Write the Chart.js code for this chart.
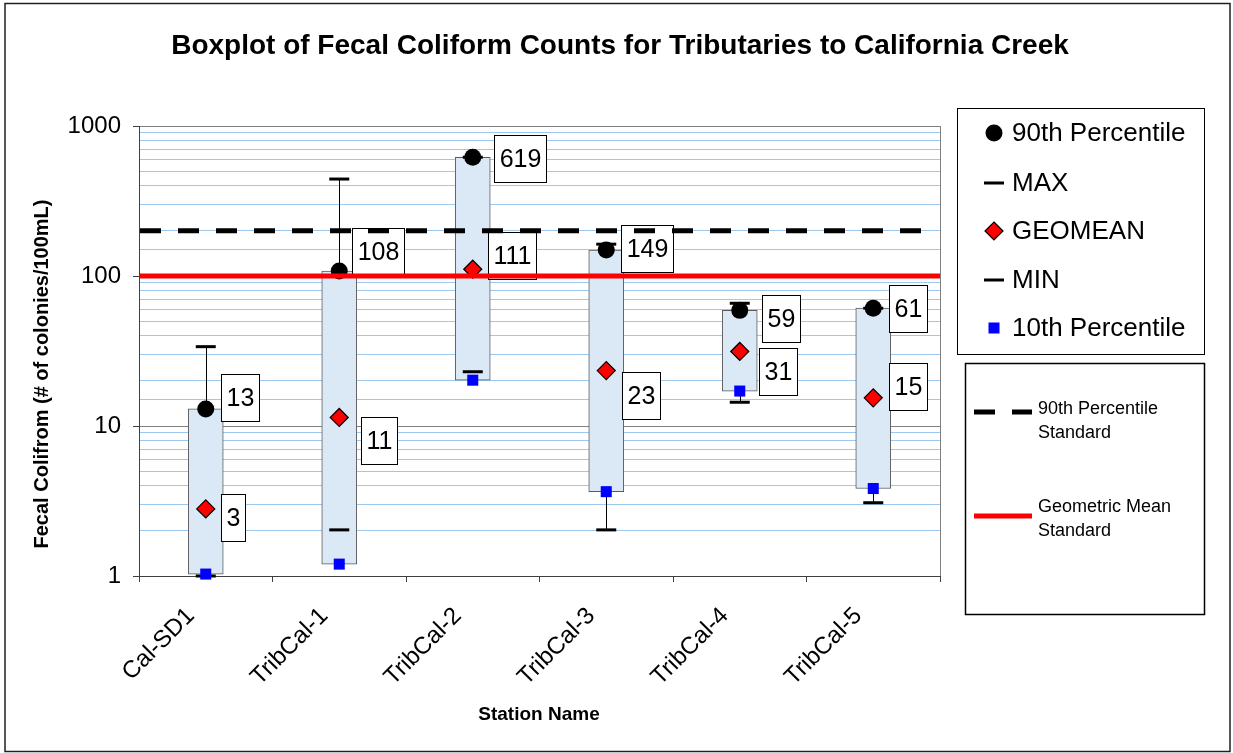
<!DOCTYPE html>
<html><head><meta charset="utf-8">
<script src="https://cdn.jsdelivr.net/npm/chart.js@4.4.1/dist/chart.umd.min.js"></script>
<style>html,body{margin:0;padding:0;background:#fff;}#wrap{position:relative;width:1233px;height:753px;}</style>
</head><body><div id="wrap"><canvas id="c" width="1233" height="753"></canvas></div>
<script>
// ---- data ----
const categories = ['Cal-SD1', 'TribCal-1', 'TribCal-2', 'TribCal-3', 'TribCal-4', 'TribCal-5'];
const p90 = [13, 108, 619, 149, 59, 61];
const p10 = [1.03, 1.2, 20.2, 3.65, 17.1, 3.83];
const maxVals = [33.8, 443, 619, 163, 65.8, 61];
const minVals = [1.0, 2.03, 23, 2.03, 14.4, 3.08];
const geomean = [2.8, 11.4, 111, 23.4, 31.4, 15.4];
const yTickLabels = [1, 10, 100, 1000];
const standard90 = 200;
const standardGeo = 100;
const titleText = 'Boxplot of Fecal Coliform Counts for Tributaries to California Creek';
const yTitle = 'Fecal Colifrom (# of colonies/100mL)';
const xTitle = 'Station Name';

// ---- styling (label placement relative to the marker) ----
const p90LabelOffset = [[15, -11.5], [13, -19], [21, 1.5], [15, -2], [22, 8.5], [16, 0.5]];
const geoLabelOffset = [[15, 9], [22, 23], [15, -14], [16, 25], [19, 20], [16, -11]];
const FONT = '"Liberation Sans", Arial, Helvetica, sans-serif';

function isDecade(v) { return yTickLabels.includes(v); }

const overlay = {
  id: 'overlay',
  afterDatasetDraw(chart, args) {
    if (args.index !== 0) return;
    const ctx = chart.ctx, xs = chart.scales.x, ys = chart.scales.y;
    ctx.save();
    ctx.strokeStyle = '#000'; ctx.lineWidth = 1;
    categories.forEach((c, i) => {
      const px = Math.round(xs.getPixelForValue(i)) + 0.5;
      if (maxVals[i] > p90[i]) {
        ctx.beginPath(); ctx.moveTo(px, ys.getPixelForValue(p90[i])); ctx.lineTo(px, ys.getPixelForValue(maxVals[i])); ctx.stroke();
      }
      if (minVals[i] < p10[i]) {
        ctx.beginPath(); ctx.moveTo(px, ys.getPixelForValue(p10[i])); ctx.lineTo(px, ys.getPixelForValue(minVals[i])); ctx.stroke();
      }
    });
    ctx.restore();
  },
  afterDatasetsDraw(chart) {
    const ctx = chart.ctx, xs = chart.scales.x, ys = chart.scales.y, a = chart.chartArea;
    ctx.save();
    ctx.font = '25px ' + FONT;
    function box(text, px, py, off) {
      const w = Math.round(ctx.measureText(text).width + 10), h = 47;
      const left = Math.round(px + off[0]), top = Math.round(py + off[1] - h / 2);
      ctx.fillStyle = '#fff'; ctx.fillRect(left, top, w, h);
      ctx.strokeStyle = '#000'; ctx.lineWidth = 1; ctx.strokeRect(left + 0.5, top + 0.5, w, h);
      ctx.fillStyle = '#000'; ctx.textAlign = 'center'; ctx.textBaseline = 'middle';
      ctx.fillText(text, left + w / 2 + 0.5, top + h / 2 + 2);
    }
    categories.forEach((c, i) => {
      const px = xs.getPixelForValue(i);
      box(String(p90[i]), px, ys.getPixelForValue(p90[i]), p90LabelOffset[i]);
      box(String(Math.round(geomean[i])), px, ys.getPixelForValue(geomean[i]), geoLabelOffset[i]);
    });
    // standards
    ctx.lineWidth = 5; ctx.strokeStyle = '#000'; ctx.setLineDash([21, 17]);
    let yy = ys.getPixelForValue(standard90);
    ctx.beginPath(); ctx.moveTo(a.left + 1, yy); ctx.lineTo(a.right - 2, yy); ctx.stroke();
    ctx.setLineDash([]); ctx.strokeStyle = '#ff0000';
    yy = ys.getPixelForValue(standardGeo);
    ctx.beginPath(); ctx.moveTo(a.left + 1, yy); ctx.lineTo(a.right, yy); ctx.stroke();
    // plot frame right side
    ctx.lineWidth = 1; ctx.strokeStyle = '#808080';
    ctx.beginPath(); ctx.moveTo(Math.round(a.right) + 0.5, a.top); ctx.lineTo(Math.round(a.right) + 0.5, a.bottom); ctx.stroke();
    ctx.restore();
  },
  afterDraw(chart) {
    const ctx = chart.ctx;
    ctx.save();
    // outer frame
    ctx.strokeStyle = '#202020'; ctx.lineWidth = 1.5;
    ctx.strokeRect(5, 3.5, 1225, 748);
    // title
    ctx.fillStyle = '#000'; ctx.textAlign = 'center'; ctx.textBaseline = 'middle';
    ctx.font = 'bold 28px ' + FONT;
    ctx.fillText(titleText, 620, 46);
    // axis titles
    ctx.font = 'bold 19px ' + FONT;
    ctx.fillText(xTitle, 539, 715);
    ctx.font = 'bold 20px ' + FONT;
    ctx.save(); ctx.translate(42, 374); ctx.rotate(-Math.PI / 2); ctx.fillText(yTitle, 0, 0); ctx.restore();
    // legend 1
    ctx.strokeStyle = '#000'; ctx.lineWidth = 1;
    ctx.strokeRect(957.5, 108.5, 247, 246);
    ctx.textAlign = 'left'; ctx.font = '26px ' + FONT;
    const mx = 994, tx = 1012;
    const rows = [133, 183, 231, 280, 328];
    const names = ['90th Percentile', 'MAX', 'GEOMEAN', 'MIN', '10th Percentile'];
    names.forEach((n, k) => { ctx.fillStyle = '#000'; ctx.fillText(n, tx, rows[k] + 1); });
    ctx.fillStyle = '#000'; ctx.beginPath(); ctx.arc(mx, rows[0], 8.5, 0, Math.PI * 2); ctx.fill();
    ctx.fillRect(mx - 10, rows[1] - 1.5, 20, 3);
    ctx.fillRect(mx - 10, rows[3] - 1.5, 20, 3);
    ctx.beginPath(); ctx.moveTo(mx, rows[2] - 9); ctx.lineTo(mx + 9, rows[2]); ctx.lineTo(mx, rows[2] + 9); ctx.lineTo(mx - 9, rows[2]); ctx.closePath();
    ctx.fillStyle = '#ff0000'; ctx.fill(); ctx.strokeStyle = '#000'; ctx.lineWidth = 1.2; ctx.stroke();
    ctx.fillStyle = '#0000ff'; ctx.fillRect(mx - 5.5, rows[4] - 5.5, 11, 11);
    // legend 2
    ctx.strokeStyle = '#000'; ctx.lineWidth = 1.5;
    ctx.strokeRect(965.5, 363.5, 239, 251);
    ctx.lineWidth = 5; ctx.setLineDash([21, 17]);
    ctx.beginPath(); ctx.moveTo(974, 412); ctx.lineTo(1032, 412); ctx.stroke();
    ctx.setLineDash([]); ctx.strokeStyle = '#ff0000';
    ctx.beginPath(); ctx.moveTo(974, 516); ctx.lineTo(1032, 516); ctx.stroke();
    ctx.fillStyle = '#000'; ctx.font = '18px ' + FONT;
    ctx.fillText('90th Percentile', 1038, 409);
    ctx.fillText('Standard', 1038, 433);
    ctx.fillText('Geometric Mean', 1038, 507);
    ctx.fillText('Standard', 1038, 531);
    ctx.restore();
  }
};

const pointBase = { type: 'line', showLine: false, clip: false, pointHoverRadius: 0 };

new Chart(document.getElementById('c'), {
  type: 'bar',
  data: {
    labels: categories,
    datasets: [
      { type: 'bar', label: 'Box', data: categories.map((c, i) => [p10[i], p90[i]]),
        backgroundColor: '#dbe8f6', borderColor: '#5a5a5a', borderWidth: 1, borderSkipped: false,
        barThickness: 35, order: 10 },
      Object.assign({}, pointBase, { label: 'MAX', data: maxVals, pointStyle: 'line', pointRadius: 10,
        borderColor: '#000', pointBorderWidth: 3, order: 5 }),
      Object.assign({}, pointBase, { label: 'MIN', data: minVals, pointStyle: 'line', pointRadius: 10,
        borderColor: '#000', pointBorderWidth: 3, order: 4 }),
      Object.assign({}, pointBase, { label: '90th Percentile', data: p90, pointStyle: 'circle', pointRadius: 8.5,
        backgroundColor: '#000', borderColor: '#000', pointBorderWidth: 0, order: 3 }),
      Object.assign({}, pointBase, { label: 'GEOMEAN', data: geomean, pointStyle: 'rectRot', pointRadius: 9,
        backgroundColor: '#ff0000', borderColor: '#000', pointBorderWidth: 1.2, order: 2 }),
      Object.assign({}, pointBase, { label: '10th Percentile', data: p10, pointStyle: 'rect', pointRadius: 7.8,
        backgroundColor: '#0000ff', borderColor: '#0000ff', pointBorderWidth: 0, order: 1 })
    ]
  },
  options: {
    responsive: false, animation: false, devicePixelRatio: 1,
    layout: { padding: { top: 126, right: 293, left: 0, bottom: 0 } },
    plugins: { legend: { display: false }, tooltip: { enabled: false }, title: { display: false } },
    scales: {
      x: {
        offset: true,
        afterFit(s) { s.height = 177; },
        grid: { offset: true, drawOnChartArea: false, tickLength: 6, color: '#404040' },
        border: { color: '#404040', width: 1 },
        ticks: { maxRotation: 45, minRotation: 45, padding: 20, labelOffset: -15, color: '#000', font: { family: FONT, size: 24 } }
      },
      y: {
        type: 'logarithmic', min: 1, max: 1000,
        afterFit(s) { s.width = 139; },
        border: { color: '#404040', width: 1 },
        grid: {
          color: ctx => (ctx.tick && isDecade(ctx.tick.value)) ? '#808080' : '#9cc8f0',
          tickColor: ctx => (ctx.tick && isDecade(ctx.tick.value)) ? '#404040' : 'rgba(0,0,0,0)',
          tickLength: 6, lineWidth: 1
        },
        ticks: {
          autoSkip: false, padding: 12, color: '#000', font: { family: FONT, size: 24 },
          callback: v => isDecade(v) ? String(v) : ''
        }
      }
    }
  },
  plugins: [overlay]
});
</script></body></html>
